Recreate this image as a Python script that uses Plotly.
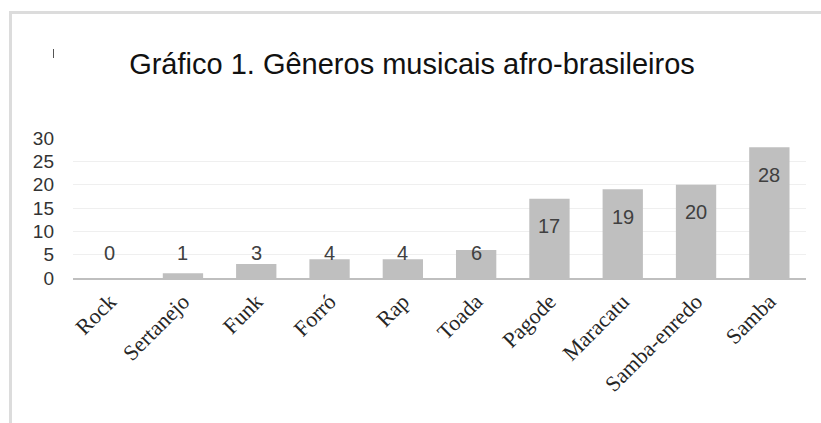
import plotly.graph_objects as go

categories = ["Rock", "Sertanejo", "Funk", "Forró", "Rap", "Toada",
              "Pagode", "Maracatu", "Samba-enredo", "Samba"]
values = [0, 1, 3, 4, 4, 6, 17, 19, 20, 28]
y_ticks = [0, 5, 10, 15, 20, 25, 30]
title_text = "Gráfico 1. Gêneros musicais afro-brasileiros"

W, H = 821, 423
L, R, T, B = 73, 15, 138, 145
pw, ph = W - L - R, H - T - B

def px_x(px):
    return (px - L) / pw

def px_y(py):
    return (H - B - py) / ph

fig = go.Figure()
fig.add_trace(go.Bar(
    x=categories, y=values,
    marker=dict(color="#bfbfbf", line=dict(width=0)),
    hoverinfo="x+y",
))

# data labels: inside end for tall bars, fixed low position for short ones
for c, v in zip(categories, values):
    fig.add_annotation(
        x=c, y=max(v - 5.9, 5.35), text=str(v), showarrow=False,
        xref="x", yref="y", yanchor="middle",
        font=dict(family="Liberation Sans, Arial", size=20, color="#404040"),
    )

# outer frame (light gray border)
fig.add_shape(type="rect", xref="paper", yref="paper",
              x0=px_x(10.5), x1=px_x(830), y0=px_y(430), y1=px_y(12.5),
              line=dict(color="#dcdcdc", width=3), layer="below")
# small mark near title
fig.add_shape(type="line", xref="paper", yref="paper",
              x0=px_x(53.5), x1=px_x(53.5), y0=px_y(58), y1=px_y(49),
              line=dict(color="#555555", width=1))

fig.update_layout(
    width=W, height=H,
    margin=dict(l=L, r=R, t=T, b=B),
    paper_bgcolor="white", plot_bgcolor="white",
    showlegend=False,
    bargap=0.45,
    title=dict(text=title_text, x=412 / W, xanchor="center",
               y=1 - 64 / H, yanchor="middle", yref="container",
               font=dict(family="Liberation Sans, Arial", size=29, color="#111111")),
    xaxis=dict(
        showgrid=False, showline=True, linecolor="#bfbfbf", linewidth=2,
        tickangle=-45, ticks="",
        tickfont=dict(family="Liberation Serif, Times New Roman", size=22, color="#262626"),
        ticklabelstandoff=0,
    ),
    yaxis=dict(
        range=[0, 30], tickvals=y_ticks, showgrid=True, gridcolor="#efefef",
        gridwidth=1, zeroline=False, showline=False, ticks="",
        ticklabelstandoff=18,
        tickfont=dict(family="Liberation Sans, Arial", size=19, color="#333333"),
    ),
)

fig.write_html("out.html")
